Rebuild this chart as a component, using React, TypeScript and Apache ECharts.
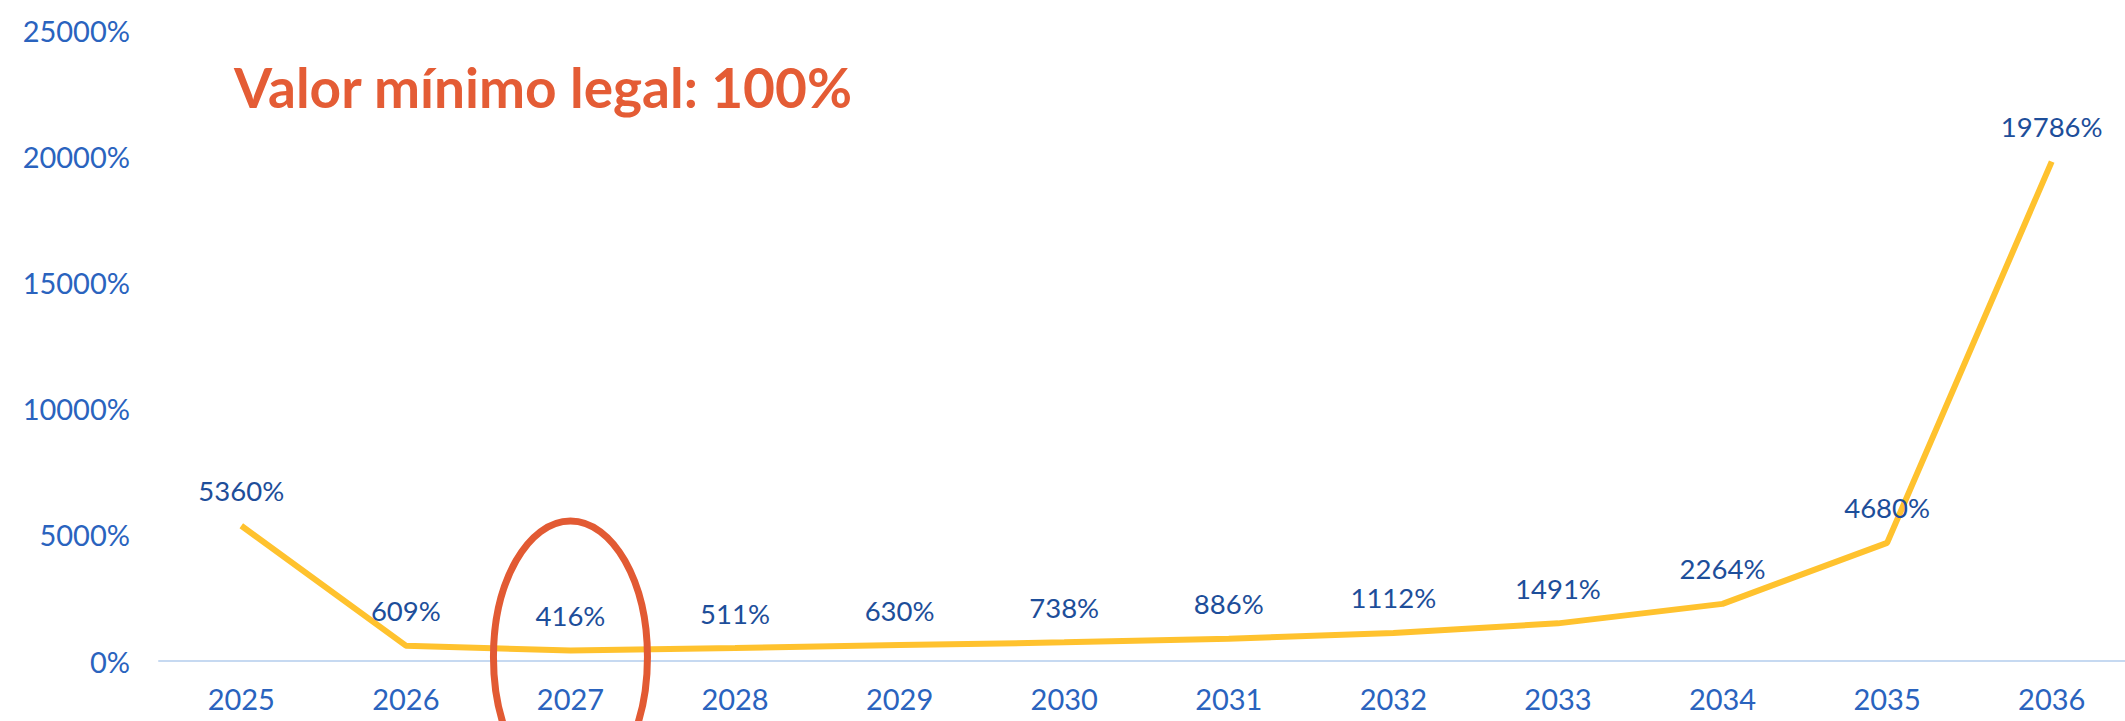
import React, { useEffect, useRef } from "react";
import * as echarts from "echarts";

const years = ["2025", "2026", "2027", "2028", "2029", "2030", "2031", "2032", "2033", "2034", "2035", "2036"];
const ratios = [5360, 609, 416, 511, 630, 738, 886, 1112, 1491, 2264, 4680, 19786];
const yTicks = { min: 0, max: 25000, interval: 5000 };
const titleText = "Valor mínimo legal: 100%";
const highlightYear = "2027";

const FONT = "Lato, 'Noto Sans', sans-serif";

export default function App() {
  const ref = useRef<HTMLDivElement>(null);

  useEffect(() => {
    document.body.style.margin = "0";
    document.body.style.overflow = "hidden";
    const chart = echarts.init(ref.current!, null, { renderer: "svg" });
    const option: any = {
      animation: false,
      backgroundColor: "#ffffff",
      grid: { left: 159, top: 30, right: 0, bottom: 60 },
      xAxis: {
        type: "category",
        data: years,
        boundaryGap: true,
        axisLine: { show: true, lineStyle: { color: "#C6D9F1", width: 2 } },
        axisTick: { show: false },
        axisLabel: { color: "#2A63BE", fontSize: 29, fontFamily: FONT, margin: 23 },
        splitLine: { show: false },
      },
      yAxis: {
        type: "value",
        min: yTicks.min,
        max: yTicks.max,
        interval: yTicks.interval,
        axisLine: { show: false },
        axisTick: { show: false },
        splitLine: { show: false },
        axisLabel: {
          color: "#2A63BE",
          fontSize: 29,
          fontFamily: FONT,
          margin: 29,
          formatter: (v: number) => `${v}%`,
        },
      },
      series: [
        {
          type: "line",
          data: ratios,
          symbol: "circle",
          symbolSize: 2,
          showSymbol: true,
          itemStyle: { color: "rgba(0,0,0,0)", borderWidth: 0 },
          lineStyle: { color: "#FFC22E", width: 6 },
          label: {
            show: true,
            position: "top",
            distance: 20,
            color: "#1D4E9A",
            fontSize: 27.5,
            fontFamily: FONT,
            formatter: (p: any) => `${p.value}%`,
          },
        },
      ],
    };
    chart.setOption(option);

    const c = chart.convertToPixel({ xAxisIndex: 0, yAxisIndex: 0 }, [highlightYear, 0]) as number[];
    chart.setOption({
      graphic: [
        {
          type: "text",
          left: 234,
          top: 59,
          style: {
            text: titleText,
            fill: "#E45C35",
            font: `bold 55px ${FONT}`,
          },
        },
        {
          type: "ellipse",
          shape: { cx: c[0], cy: c[1] - 4, rx: 77, ry: 136 },
          style: { fill: "none", stroke: "#E25A33", lineWidth: 7 },
          z: 10,
        },
      ],
    });

    return () => chart.dispose();
  }, []);

  return (
    <div
      ref={ref}
      style={{ position: "fixed", left: 0, top: 0, width: 2134, height: 721 }}
    />
  );
}
